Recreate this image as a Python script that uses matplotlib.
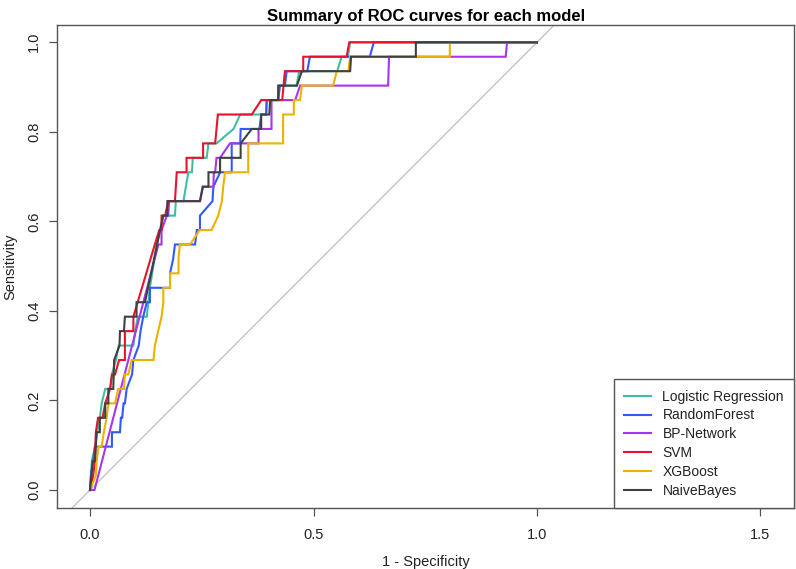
import matplotlib
matplotlib.use("Agg")
import matplotlib.pyplot as plt

plt.rcParams['font.family'] = ['Liberation Sans', 'DejaVu Sans']

N_POS = 31  # number of positive cases (sensitivity steps of 1/31)

models = ["Logistic Regression", "RandomForest", "BP-Network", "SVM", "XGBoost", "NaiveBayes"]
colors = ["#3FBFA0", "#3358FF", "#A535F2", "#E8132B", "#EDB100", "#404040"]

# 1 - specificity values and number of detected positives (sensitivity * 31)
lr_fpr = [0, 0.004, 0.011, 0.016, 0.022, 0.026, 0.034, 0.045, 0.049, 0.058, 0.064, 0.097, 0.101, 0.107,
          0.127, 0.134, 0.149, 0.164, 0.190, 0.192, 0.209, 0.220, 0.228, 0.230, 0.261, 0.265, 0.283,
          0.321, 0.336, 0.394, 0.396, 0.421, 0.423, 0.462, 0.468, 0.553, 0.563, 0.577, 0.582, 1.0]
lr_tp = [0, 2, 3, 4, 5, 6, 7, 7, 8, 9, 10, 10, 11, 12,
         12, 14, 17, 19, 19, 20, 20, 22, 22, 23, 23, 24, 24,
         25, 26, 26, 27, 27, 28, 28, 29, 29, 30, 30, 31, 31]

rf_fpr = [0, 0.002, 0.007, 0.011, 0.049, 0.049, 0.067, 0.069, 0.072, 0.075, 0.078, 0.082, 0.094, 0.097,
          0.109, 0.113, 0.119, 0.127, 0.134, 0.134, 0.179, 0.179, 0.186, 0.190, 0.235, 0.239, 0.246,
          0.246, 0.274, 0.276, 0.291, 0.317, 0.317, 0.336, 0.337, 0.379, 0.383, 0.394, 0.395, 0.421,
          0.425, 0.436, 0.440, 0.486, 0.492, 0.626, 0.635, 1.0]
rf_tp = [0, 1, 2, 3, 3, 4, 4, 5, 5, 6, 6, 7, 8, 9,
         10, 11, 12, 13, 13, 14, 14, 15, 16, 17, 17, 18, 18,
         19, 20, 21, 22, 22, 24, 24, 25, 25, 26, 26, 27, 27,
         28, 28, 29, 29, 30, 30, 31, 31]

bp_fpr = [0, 0.010, 0.153, 0.160, 0.160, 0.172, 0.175, 0.177, 0.246, 0.253, 0.276, 0.277, 0.280,
          0.283, 0.291, 0.313, 0.377, 0.377, 0.406, 0.406, 0.459, 0.470, 0.667, 0.669, 0.930, 0.933, 1.0]
bp_tp = [0, 0, 17, 17, 18, 19, 19, 20, 20, 21, 21, 22, 22,
         23, 23, 24, 24, 25, 25, 27, 27, 28, 28, 30, 30, 31, 31]

svm_fpr = [0, 0.007, 0.011, 0.013, 0.018, 0.028, 0.034, 0.045, 0.049, 0.056, 0.065, 0.078, 0.078,
           0.097, 0.097, 0.145, 0.155, 0.160, 0.160, 0.168, 0.175, 0.190, 0.194, 0.216, 0.216, 0.253,
           0.253, 0.280, 0.286, 0.362, 0.383, 0.430, 0.436, 0.477, 0.477, 0.574, 0.580, 1.0]
svm_tp = [0, 1, 2, 4, 5, 5, 6, 7, 8, 8, 9, 9, 11,
          11, 12, 17, 18, 18, 19, 19, 20, 20, 22, 22, 23, 23,
          24, 24, 26, 26, 27, 27, 29, 29, 30, 30, 31, 31]

xgb_fpr = [0, 0.013, 0.015, 0.019, 0.026, 0.031, 0.037, 0.041, 0.056, 0.063, 0.076, 0.078, 0.086,
           0.093, 0.142, 0.145, 0.160, 0.164, 0.164, 0.179, 0.179, 0.198, 0.198, 0.201, 0.224, 0.245,
           0.272, 0.287, 0.295, 0.298, 0.302, 0.354, 0.354, 0.432, 0.432, 0.456, 0.456, 0.470, 0.474,
           0.544, 0.552, 0.578, 0.582, 0.805, 0.805, 1.0]
xgb_tp = [0, 1, 2, 3, 3, 4, 5, 6, 6, 7, 7, 8, 8,
          9, 9, 10, 12, 13, 14, 14, 15, 15, 16, 17, 17, 18,
          18, 19, 20, 21, 22, 22, 24, 24, 26, 26, 27, 27, 28,
          28, 29, 29, 30, 30, 31, 31]

nb_fpr = [0, 0.006, 0.011, 0.015, 0.022, 0.022, 0.034, 0.034, 0.041, 0.041, 0.052, 0.054, 0.066,
          0.067, 0.076, 0.078, 0.104, 0.104, 0.123, 0.157, 0.164, 0.173, 0.173, 0.246, 0.252, 0.265,
          0.265, 0.291, 0.291, 0.337, 0.337, 0.362, 0.383, 0.383, 0.401, 0.403, 0.421, 0.421, 0.463,
          0.474, 0.582, 0.584, 0.729, 0.729, 1.0]
nb_tp = [0, 2, 2, 4, 4, 5, 5, 6, 6, 7, 7, 9, 10,
         11, 11, 12, 12, 13, 13, 18, 19, 19, 20, 20, 21, 21,
         22, 22, 23, 23, 24, 25, 25, 26, 26, 27, 27, 28, 28,
         29, 29, 30, 30, 31, 31]

fprs = [lr_fpr, rf_fpr, bp_fpr, svm_fpr, xgb_fpr, nb_fpr]
tps = [lr_tp, rf_tp, bp_tp, svm_tp, xgb_tp, nb_tp]

x_ticks = [0.0, 0.5, 1.0, 1.5]
y_ticks = [0.0, 0.2, 0.4, 0.6, 0.8, 1.0]

W, H = 796, 569
fig = plt.figure(figsize=(W / 100, H / 100), dpi=100)
ax = fig.add_axes([57.3 / W, 1 - 508.3 / H, (794.3 - 57.3) / W, (508.3 - 24.7) / H])

ax.axline((0, 0), slope=1, color="#BEBEBE", lw=0.9, zorder=1)

for name, col, f, t in zip(models, colors, fprs, tps):
    ax.plot(f, [v / N_POS for v in t], color=col, lw=1.5, label=name, zorder=2,
            solid_joinstyle="miter")

ax.set_xlim(-0.0732, 1.5757)
ax.set_ylim(-0.0409, 1.0393)
ax.set_xticks(x_ticks)
ax.set_xticklabels([f"{v:.1f}" for v in x_ticks])
ax.set_yticks(y_ticks)
ax.set_yticklabels([f"{v:.1f}" for v in y_ticks], rotation=90, va="center")

for s in ax.spines.values():
    s.set_color("#555555")
    s.set_linewidth(1.0)
ax.tick_params(axis="both", colors="#555555", labelcolor="#222222", labelsize=10.5,
               length=5.5, width=0.9, direction="out")
ax.tick_params(axis="x", pad=9)
ax.tick_params(axis="y", pad=6)

ax.set_title("Summary of ROC curves for each model", fontsize=12, fontweight="bold", pad=3)
ax.set_xlabel("1 - Specificity", fontsize=10.5, color="#222222", labelpad=9)
ax.set_ylabel("Sensitivity", fontsize=10.5, color="#222222", labelpad=7)

leg = ax.legend(loc="lower right", borderaxespad=0, fancybox=False, fontsize=10,
                handlelength=1.9, handletextpad=0.85, labelspacing=0.35, borderpad=0.75,
                edgecolor="#555555", framealpha=1)
leg.get_frame().set_linewidth(1.0)
for t in leg.get_texts():
    t.set_color("#222222")

fig.savefig("out.png", dpi=100)
